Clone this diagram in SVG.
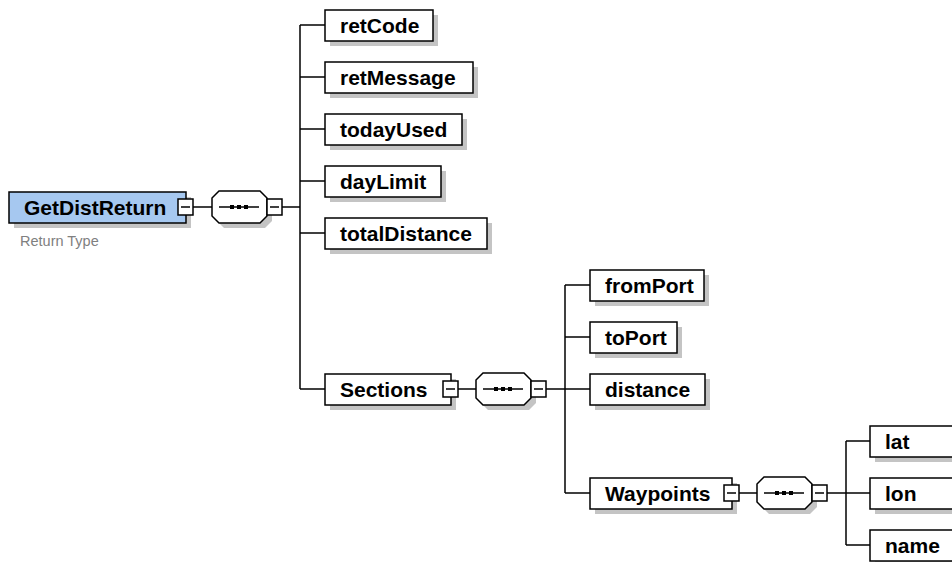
<svg xmlns="http://www.w3.org/2000/svg" xmlns:xlink="http://www.w3.org/1999/xlink" width="952" height="562" viewBox="0 0 952 562">
<style>
.bg{fill:#ffffff}
.shadow{fill:#c4c4c4;stroke:none}
.box{fill:#ffffff;stroke:#000000;stroke-width:1.5}
.root{fill:#a6c8f0;stroke:#000000;stroke-width:1.5}
.ln{stroke:#000000;stroke-width:1.5;fill:none}
.lbl{font-family:"Liberation Sans",Arial,sans-serif;font-weight:bold;font-size:21px;fill:#000000}
.sub{font-family:"Liberation Sans",Arial,sans-serif;font-size:14.5px;fill:#808080}
</style>
<defs>
<g id="icon">
<rect class="box" x="0" y="-8" width="15" height="16"/>
<line class="ln" x1="3" y1="0" x2="12" y2="0"/>
</g>
<g id="seq">
<polygon class="shadow" points="12,-11 53,-11 60,-4 60,14 53,21 12,21 5,14 5,-4"/>
<polygon class="box" points="7,-16 48,-16 55,-9 55,9 48,16 7,16 0,9 0,-9"/>
<line class="ln" x1="7" y1="0" x2="47" y2="0"/>
<rect x="18" y="-2" width="4" height="4" fill="#000"/>
<rect x="25" y="-2" width="4" height="4" fill="#000"/>
<rect x="32" y="-2" width="4" height="4" fill="#000"/>
<use xlink:href="#icon" x="55" y="0"/>
</g>
</defs>
<rect class="bg" x="0" y="0" width="952" height="562"/>

<g id="connectors">
<line class="ln" x1="193" y1="207" x2="212" y2="207"/>
<line class="ln" x1="282" y1="207" x2="300" y2="207"/>
<line class="ln" x1="300" y1="25" x2="300" y2="389"/>
<line class="ln" x1="300" y1="25" x2="325" y2="25"/>
<line class="ln" x1="300" y1="77" x2="325" y2="77"/>
<line class="ln" x1="300" y1="129" x2="325" y2="129"/>
<line class="ln" x1="300" y1="181" x2="325" y2="181"/>
<line class="ln" x1="300" y1="233" x2="325" y2="233"/>
<line class="ln" x1="300" y1="389" x2="325" y2="389"/>
<line class="ln" x1="458" y1="389" x2="476" y2="389"/>
<line class="ln" x1="546" y1="389" x2="565" y2="389"/>
<line class="ln" x1="565" y1="285" x2="565" y2="493"/>
<line class="ln" x1="565" y1="285" x2="590" y2="285"/>
<line class="ln" x1="565" y1="337" x2="590" y2="337"/>
<line class="ln" x1="565" y1="389" x2="590" y2="389"/>
<line class="ln" x1="565" y1="493" x2="590" y2="493"/>
<line class="ln" x1="739" y1="493" x2="757" y2="493"/>
<line class="ln" x1="827" y1="493" x2="846" y2="493"/>
<line class="ln" x1="846" y1="441" x2="846" y2="545"/>
<line class="ln" x1="846" y1="441" x2="870" y2="441"/>
<line class="ln" x1="846" y1="493" x2="870" y2="493"/>
<line class="ln" x1="846" y1="545" x2="870" y2="545"/>
</g>

<g id="GetDistReturn">
<rect class="shadow" x="14" y="197" width="177" height="31"/>
<rect class="root" x="9" y="192" width="177" height="31"/>
<text class="lbl" x="24" y="215">GetDistReturn</text>
<use xlink:href="#icon" x="178" y="207"/>
<text class="sub" x="20" y="246">Return Type</text>
</g>
<g id="seq1"><use xlink:href="#seq" x="212" y="207"/></g>

<g id="retCode">
<rect class="shadow" x="330" y="15" width="108" height="31"/>
<rect class="box" x="325" y="10" width="108" height="31"/>
<text class="lbl" x="340" y="33">retCode</text>
</g>
<g id="retMessage">
<rect class="shadow" x="330" y="67" width="148" height="31"/>
<rect class="box" x="325" y="62" width="148" height="31"/>
<text class="lbl" x="340" y="85">retMessage</text>
</g>
<g id="todayUsed">
<rect class="shadow" x="330" y="119" width="137" height="31"/>
<rect class="box" x="325" y="114" width="137" height="31"/>
<text class="lbl" x="340" y="137">todayUsed</text>
</g>
<g id="dayLimit">
<rect class="shadow" x="330" y="171" width="116" height="31"/>
<rect class="box" x="325" y="166" width="116" height="31"/>
<text class="lbl" x="340" y="189">dayLimit</text>
</g>
<g id="totalDistance">
<rect class="shadow" x="330" y="223" width="162" height="31"/>
<rect class="box" x="325" y="218" width="162" height="31"/>
<text class="lbl" x="340" y="241">totalDistance</text>
</g>
<g id="Sections">
<rect class="shadow" x="330" y="379" width="126" height="31"/>
<rect class="box" x="325" y="374" width="126" height="31"/>
<text class="lbl" x="340" y="397">Sections</text>
<use xlink:href="#icon" x="443" y="389"/>
</g>
<g id="seq2"><use xlink:href="#seq" x="476" y="389"/></g>

<g id="fromPort">
<rect class="shadow" x="595" y="275" width="114" height="31"/>
<rect class="box" x="590" y="270" width="114" height="31"/>
<text class="lbl" x="605" y="293">fromPort</text>
</g>
<g id="toPort">
<rect class="shadow" x="595" y="327" width="87" height="31"/>
<rect class="box" x="590" y="322" width="87" height="31"/>
<text class="lbl" x="605" y="345">toPort</text>
</g>
<g id="distance">
<rect class="shadow" x="595" y="379" width="115" height="31"/>
<rect class="box" x="590" y="374" width="115" height="31"/>
<text class="lbl" x="605" y="397">distance</text>
</g>
<g id="Waypoints">
<rect class="shadow" x="595" y="483" width="142" height="31"/>
<rect class="box" x="590" y="478" width="142" height="31"/>
<text class="lbl" x="605" y="501">Waypoints</text>
<use xlink:href="#icon" x="724" y="493"/>
</g>
<g id="seq3"><use xlink:href="#seq" x="757" y="493"/></g>

<g id="lat">
<rect class="shadow" x="875" y="431" width="110" height="31"/>
<rect class="box" x="870" y="426" width="110" height="31"/>
<text class="lbl" x="885" y="449">lat</text>
</g>
<g id="lon">
<rect class="shadow" x="875" y="483" width="110" height="31"/>
<rect class="box" x="870" y="478" width="110" height="31"/>
<text class="lbl" x="885" y="501">lon</text>
</g>
<g id="name">
<rect class="shadow" x="875" y="535" width="110" height="31"/>
<rect class="box" x="870" y="530" width="110" height="31"/>
<text class="lbl" x="885" y="553">name</text>
</g>
</svg>
